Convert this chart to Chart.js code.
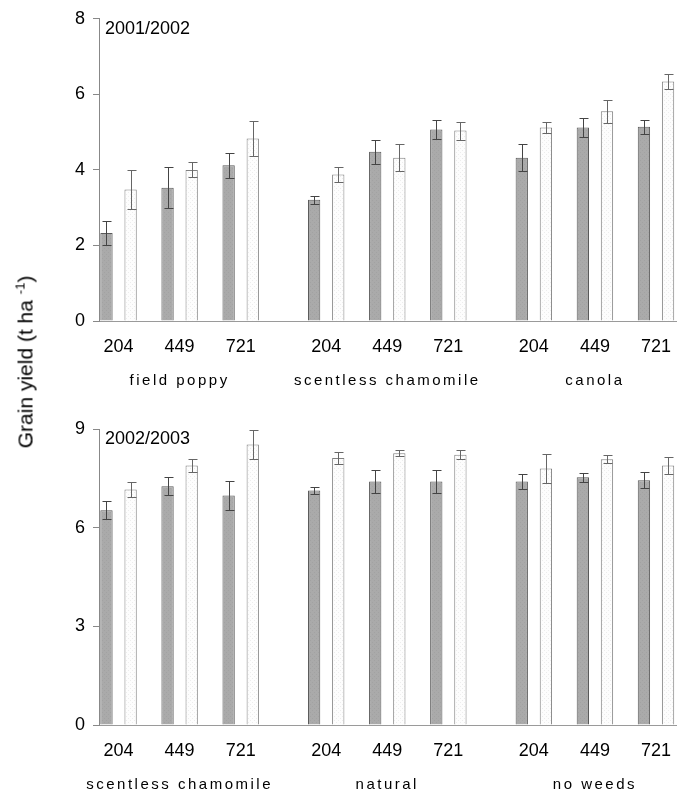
<!DOCTYPE html>
<html>
<head>
<meta charset="utf-8">
<script src="https://cdn.jsdelivr.net/npm/chart.js@4/dist/chart.umd.min.js"></script>
<style>
  body { margin: 0; background: #fff; }
  #wrap { position: relative; width: 686px; height: 796px; }
  .panel { position: absolute; left: 0; width: 686px; height: 398px; }
  #top { top: 0; }
  #bottom { top: 398px; }
  #ytitle {
    position: absolute; left: 25px; top: 362px;
    transform: translate(-50%, -50%) rotate(-90deg);
    font: 21px "Liberation Sans", Arial, sans-serif; white-space: nowrap; color: #000;
  }
  #ytitle sup { font-size: 13px; }
</style>
</head>
<body>
<div id="wrap">
  <div class="panel" id="top"><canvas id="topChart"></canvas></div>
  <div class="panel" id="bottom"><canvas id="bottomChart"></canvas></div>
  <div id="ytitle">Grain yield (t ha <sup>-1</sup>)</div>
</div>
<script>
// Weed density (plants m-2) and group positions on the x axis
const densities = ['204', '449', '721'];
const positions = [0, 1, 2, 3.4, 4.4, 5.4, 6.8, 7.8, 8.8];
const namePositions = [1, 4.4, 7.8];

// 2001/2002
const topWeeds = ['field poppy', 'scentless chamomile', 'canola'];
const topGray = [2.33, 3.53, 4.12, 3.21, 4.48, 5.07, 4.32, 5.12, 5.14];
const topGrayErr = [0.31, 0.55, 0.34, 0.10, 0.32, 0.24, 0.36, 0.26, 0.19];
const topWhite = [3.48, 4.00, 4.83, 3.88, 4.32, 5.04, 5.12, 5.55, 6.34];
const topWhiteErr = [0.51, 0.20, 0.47, 0.20, 0.36, 0.24, 0.15, 0.30, 0.20];
const topTicks = [0, 2, 4, 6, 8];

// 2002/2003
const bottomWeeds = ['scentless chamomile', 'natural', 'no weeds'];
const bottomGray = [6.53, 7.26, 6.98, 7.13, 7.40, 7.40, 7.40, 7.53, 7.44];
const bottomGrayErr = [0.28, 0.27, 0.44, 0.10, 0.34, 0.34, 0.22, 0.14, 0.24];
const bottomWhite = [7.16, 7.89, 8.53, 8.12, 8.26, 8.22, 7.80, 8.08, 7.89];
const bottomWhiteErr = [0.24, 0.20, 0.43, 0.18, 0.09, 0.14, 0.45, 0.12, 0.27];
const bottomTicks = [0, 3, 6, 9];

const FONT = '"Liberation Sans", Arial, sans-serif';

// faint dotted fill like the original print
function makePattern(base, dot) {
    const c = document.createElement('canvas');
    c.width = 4; c.height = 4;
    const g = c.getContext('2d');
    g.fillStyle = base; g.fillRect(0, 0, 4, 4);
    g.fillStyle = dot; g.fillRect(0, 0, 1, 1); g.fillRect(2, 2, 1, 1);
    return g.createPattern(c, 'repeat');
}

// error bars drawn from each bar's value and the y scale
const errorBars = {
    id: 'errorBars',
    afterDatasetsDraw(chart) {
        const ctx = chart.ctx;
        const y = chart.scales.y;
        chart.data.datasets.forEach(function(ds, di) {
            const meta = chart.getDatasetMeta(di);
            ctx.save();
            ctx.strokeStyle = ds.errColor;
            ctx.lineWidth = 1;
            meta.data.forEach(function(bar, i) {
                const v = ds.data[i].y, e = ds.errors[i];
                const bx = Math.round(bar.x) + 0.5;
                const yHi = Math.round(y.getPixelForValue(v + e)) + 0.5;
                const yLo = Math.round(y.getPixelForValue(v - e)) + 0.5;
                ctx.beginPath();
                ctx.moveTo(bx, yHi); ctx.lineTo(bx, yLo);
                ctx.moveTo(bx - 4, yHi); ctx.lineTo(bx + 5, yHi);
                ctx.moveTo(bx - 4, yLo); ctx.lineTo(bx + 5, yLo);
                ctx.stroke();
            });
            ctx.restore();
        });
    }
};

// weed names under the density labels and the season label in the corner
const panelLabels = {
    id: 'panelLabels',
    afterDraw(chart, args, opts) {
        const ctx = chart.ctx;
        const x = chart.scales.x;
        const area = chart.chartArea;
        ctx.save();
        ctx.fillStyle = '#000';
        ctx.textBaseline = 'middle';
        ctx.font = '18px ' + FONT;
        ctx.textAlign = 'left';
        ctx.fillText(opts.season, area.left + 6, area.top + 10);
        ctx.font = '15px ' + FONT;
        ctx.letterSpacing = '2.5px';
        ctx.textAlign = 'center';
        opts.names.forEach(function(n, i) {
            ctx.fillText(n, x.getPixelForValue(namePositions[i]), area.bottom + 60);
        });
        ctx.restore();
    }
};

function makeChart(id, season, names, gray, grayErr, white, whiteErr, yTicks, topSpace, bottomSpace) {
    const ctx = document.getElementById(id).getContext('2d');
    return new Chart(ctx, {
        type: 'bar',
        data: {
            datasets: [{
                data: positions.map((p, i) => ({ x: p, y: gray[i] })),
                errors: grayErr,
                errColor: '#444',
                backgroundColor: makePattern('#aaaaaa', '#a2a2a2'),
                borderColor: '#5a5a5a',
                borderWidth: 1,
                categoryPercentage: 0.79,
                barPercentage: 0.51
            }, {
                data: positions.map((p, i) => ({ x: p, y: white[i] })),
                errors: whiteErr,
                errColor: '#666',
                backgroundColor: makePattern('#fdfdfd', '#ededed'),
                borderColor: '#808080',
                borderWidth: 1,
                categoryPercentage: 0.79,
                barPercentage: 0.51
            }]
        },
        options: {
            responsive: true,
            maintainAspectRatio: false,
            animation: false,
            layout: { padding: { top: topSpace, left: 0, right: 0, bottom: 0 } },
            plugins: {
                legend: { display: false },
                tooltip: { enabled: false },
                panelLabels: { season: season, names: names }
            },
            scales: {
                x: {
                    type: 'linear',
                    offset: false,
                    min: -0.32,
                    max: 9.14,
                    afterBuildTicks: function(scale) {
                        scale.ticks = positions.map(v => ({ value: v }));
                    },
                    afterFit: function(scale) { scale.height = bottomSpace; },
                    ticks: {
                        autoSkip: false,
                        maxRotation: 0,
                        padding: 15,
                        color: '#000',
                        font: { family: FONT, size: 18 },
                        callback: function(v, i) { return densities[i % 3]; }
                    },
                    grid: { display: true, drawOnChartArea: false, drawTicks: false },
                    border: { display: true, color: '#9a9a9a', width: 1 }
                },
                y: {
                    min: 0,
                    max: yTicks[yTicks.length - 1],
                    afterBuildTicks: function(scale) {
                        scale.ticks = yTicks.map(v => ({ value: v }));
                    },
                    afterFit: function(scale) { scale.width = 99; },
                    ticks: {
                        padding: 8,
                        color: '#000',
                        font: { family: FONT, size: 18 }
                    },
                    grid: { display: true, drawOnChartArea: false, drawTicks: true, tickLength: 6, color: '#888' },
                    border: { display: true, color: '#888', width: 1 }
                }
            }
        },
        plugins: [errorBars, panelLabels]
    });
}

document.addEventListener('DOMContentLoaded', function() {
    makeChart('topChart', '2001/2002', topWeeds, topGray, topGrayErr, topWhite, topWhiteErr, topTicks, 18, 77);
    makeChart('bottomChart', '2002/2003', bottomWeeds, bottomGray, bottomGrayErr, bottomWhite, bottomWhiteErr, bottomTicks, 31, 71);
});
</script>
</body>
</html>
